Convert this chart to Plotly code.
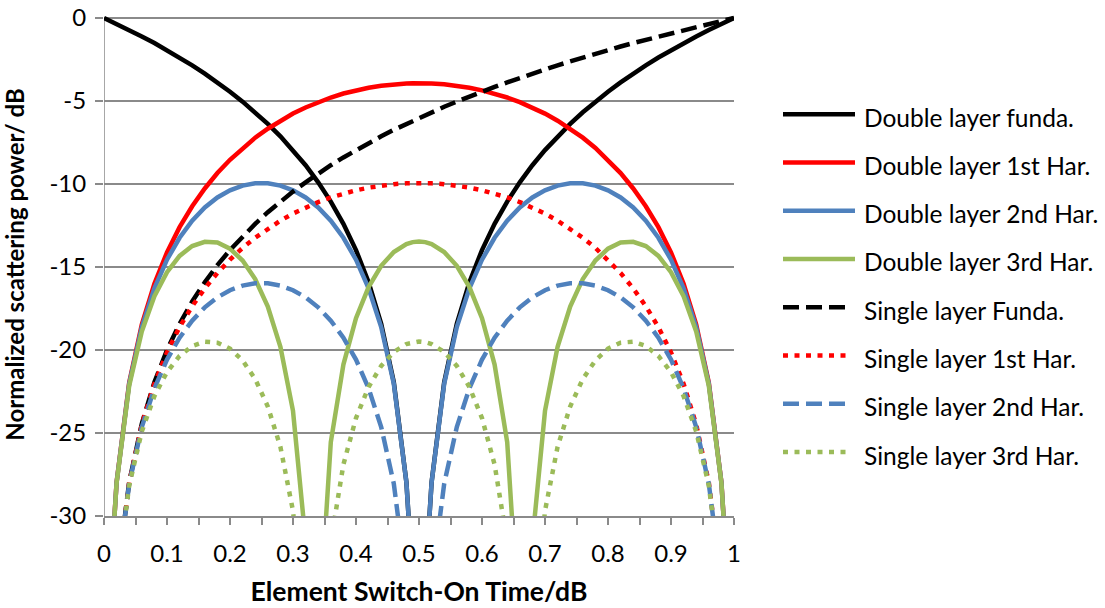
import plotly.graph_objects as go

# ---------------------------------------------------------------- data
# Element switch-on time (normalised), shared by every series
switch_on_time = [
    0, 0.01, 0.02, 0.04, 0.06, 0.08, 0.10, 0.12, 0.14, 0.16, 0.18, 0.20, 0.22,
    0.24, 0.26, 0.28, 0.30, 0.32, 0.34, 0.36, 0.38, 0.40, 0.42, 0.44, 0.46,
    0.48, 0.49, 0.50, 0.51, 0.52, 0.54, 0.56, 0.58, 0.60, 0.62, 0.64, 0.66,
    0.68, 0.70, 0.72, 0.74, 0.76, 0.78, 0.80, 0.82, 0.84, 0.86, 0.88, 0.90,
    0.92, 0.94, 0.96, 0.98, 0.99, 1.0,
]

# Normalised scattering power in dB (None = no finite value, -inf dB)
double_funda = [
    0, -0.18, -0.35, -0.72, -1.11, -1.51, -1.94, -2.38, -2.85, -3.35, -3.88,
    -4.44, -5.04, -5.68, -6.38, -7.13, -7.96, -8.87, -9.90, -11.06, -12.40,
    -13.98, -15.92, -18.42, -21.94, -27.96, -33.98, None, -33.98, -27.96,
    -21.94, -18.42, -15.92, -13.98, -12.40, -11.06, -9.90, -8.87, -7.96,
    -7.13, -6.38, -5.68, -5.04, -4.44, -3.88, -3.35, -2.85, -2.38, -1.94,
    -1.51, -1.11, -0.72, -0.35, -0.18, 0,
]
double_1st = [
    None, -33.98, -27.96, -21.96, -18.47, -16.01, -14.12, -12.60, -11.34,
    -10.27, -9.34, -8.54, -7.83, -7.21, -6.67, -6.19, -5.76, -5.39, -5.07,
    -4.79, -4.55, -4.36, -4.20, -4.08, -3.99, -3.94, -3.93, -3.92, -3.93,
    -3.94, -3.99, -4.08, -4.20, -4.36, -4.55, -4.79, -5.07, -5.39, -5.76,
    -6.19, -6.67, -7.21, -7.83, -8.54, -9.34, -10.27, -11.34, -12.60, -14.12,
    -16.01, -18.47, -21.96, -27.96, -33.98, None,
]
double_2nd = [
    None, -33.99, -27.98, -22.03, -18.62, -16.29, -14.56, -13.24, -12.21,
    -11.41, -10.81, -10.38, -10.10, -9.96, -9.96, -10.10, -10.38, -10.81,
    -11.41, -12.21, -13.24, -14.56, -16.29, -18.62, -22.03, -27.98, -33.99,
    None, -33.99, -27.98, -22.03, -18.62, -16.29, -14.56, -13.24, -12.21,
    -11.41, -10.81, -10.38, -10.10, -9.96, -9.96, -10.10, -10.38, -10.81,
    -11.41, -12.21, -13.24, -14.56, -16.29, -18.62, -22.03, -27.98, -33.99,
    None,
]
double_3rd = [
    None, -33.99, -28.01, -22.15, -18.89, -16.76, -15.31, -14.33, -13.74,
    -13.48, -13.53, -13.90, -14.61, -15.73, -17.38, -19.81, -23.67, -31.50,
    -37.51, -25.55, -20.88, -18.08, -16.21, -14.93, -14.10, -13.62, -13.50,
    -13.46, -13.50, -13.62, -14.10, -14.93, -16.21, -18.08, -20.88, -25.55,
    -37.51, -31.50, -23.67, -19.81, -17.38, -15.73, -14.61, -13.90, -13.53,
    -13.48, -13.74, -14.33, -15.31, -16.76, -18.89, -22.15, -28.01, -33.99,
    None,
]
single_funda = [
    None, -40.00, -33.98, -27.96, -24.44, -21.94, -20.00, -18.42, -17.08,
    -15.92, -14.89, -13.98, -13.15, -12.40, -11.70, -11.06, -10.46, -9.90,
    -9.37, -8.87, -8.40, -7.96, -7.54, -7.13, -6.74, -6.38, -6.20, -6.02,
    -5.85, -5.68, -5.35, -5.04, -4.73, -4.44, -4.15, -3.88, -3.61, -3.35,
    -3.10, -2.85, -2.62, -2.38, -2.16, -1.94, -1.72, -1.51, -1.31, -1.11,
    -0.92, -0.72, -0.54, -0.35, -0.18, -0.09, 0,
]
single_1st = [
    None, -40.00, -33.99, -27.98, -24.49, -22.03, -20.14, -18.62, -17.36,
    -16.29, -15.36, -14.56, -13.85, -13.24, -12.69, -12.21, -11.78, -11.41,
    -11.09, -10.81, -10.58, -10.38, -10.22, -10.10, -10.01, -9.96, -9.95,
    -9.94, -9.95, -9.96, -10.01, -10.10, -10.22, -10.38, -10.58, -10.81,
    -11.09, -11.41, -11.78, -12.21, -12.69, -13.24, -13.85, -14.56, -15.36,
    -16.29, -17.36, -18.62, -20.14, -22.03, -24.49, -27.98, -33.99, -40.00,
    None,
]
single_2nd = [
    None, -40.01, -34.00, -28.05, -24.64, -22.31, -20.58, -19.26, -18.23,
    -17.43, -16.83, -16.40, -16.12, -15.98, -15.98, -16.12, -16.40, -16.83,
    -17.43, -18.23, -19.26, -20.58, -22.31, -24.64, -28.05, -34.00, -40.01,
    None, -40.01, -34.00, -28.05, -24.64, -22.31, -20.58, -19.26, -18.23,
    -17.43, -16.83, -16.40, -16.12, -15.98, -15.98, -16.12, -16.40, -16.83,
    -17.43, -18.23, -19.26, -20.58, -22.31, -24.64, -28.05, -34.00, -40.01,
    None,
]
single_3rd = [
    None, -40.01, -34.03, -28.17, -24.91, -22.78, -21.33, -20.36, -19.76,
    -19.50, -19.56, -19.92, -20.63, -21.75, -23.40, -25.83, -29.69, -37.53,
    -43.53, -31.57, -26.90, -24.10, -22.23, -20.96, -20.12, -19.64, -19.53,
    -19.49, -19.53, -19.64, -20.12, -20.96, -22.23, -24.10, -26.90, -31.57,
    -43.53, -37.53, -29.69, -25.83, -23.40, -21.75, -20.63, -19.92, -19.56,
    -19.50, -19.76, -20.36, -21.33, -22.78, -24.91, -28.17, -34.03, -40.01,
    None,
]

series_names = [
    "Double layer funda.", "Double layer 1st Har.", "Double layer 2nd Har.",
    "Double layer 3rd Har.", "Single layer Funda.", "Single layer 1st Har.",
    "Single layer 2nd Har.", "Single layer 3rd Har.",
]
series_values = [
    double_funda, double_1st, double_2nd, double_3rd,
    single_funda, single_1st, single_2nd, single_3rd,
]

x_tick_values = [0, 0.1, 0.2, 0.3, 0.4, 0.5, 0.6, 0.7, 0.8, 0.9, 1]
x_tick_labels = ["0", "0.1", "0.2", "0.3", "0.4", "0.5", "0.6", "0.7", "0.8", "0.9", "1"]
y_tick_values = [-30, -25, -20, -15, -10, -5, 0]
y_tick_labels = ["-30", "-25", "-20", "-15", "-10", "-5", "0"]

# ---------------------------------------------------------------- styling
BLACK, RED, BLUE, GREEN = "#000000", "#FF0000", "#4F81BD", "#9BBB59"
DASH = "16px,7px"
DOT = "5px,6.5px"
series_styles = [
    (BLACK, "solid"), (RED, "solid"), (BLUE, "solid"), (GREEN, "solid"),
    (BLACK, DASH), (RED, DOT), (BLUE, DASH), (GREEN, DOT),
]
LINE_W = 4.5
GRID = "#8A8A8A"
FONT = "Lato"

W, H = 1105, 608
PLOT_L, PLOT_R = 104, 734          # pixel columns of x = 0 and x = 1
ZERO_PX, BOTTOM_PX = 17.8, 516     # pixel rows of 0 dB and -30 dB
Y_HEADROOM = 0.3                   # dB above 0 so the 0 dB ends are not clipped
px_per_db = (BOTTOM_PX - ZERO_PX) / 30.0
top_px = ZERO_PX - Y_HEADROOM * px_per_db
plot_h = BOTTOM_PX - top_px
plot_w = PLOT_R - PLOT_L

fig = go.Figure()
for name, values, (color, dash) in zip(series_names, series_values, series_styles):
    fig.add_trace(go.Scatter(
        x=switch_on_time, y=values, name=name, mode="lines",
        line=dict(color=color, width=LINE_W, dash=dash),
        connectgaps=False, showlegend=False,
    ))

# vertical axis line at x = 0
fig.add_shape(type="line", xref="x", yref="y", x0=0, x1=0, y0=-30, y1=0,
              line=dict(color=GRID, width=1.5), layer="below")

# legend: sample lines + labels placed to the right of the plot
LEG_X0, LEG_X1, LEG_TEXT_X = 783, 855, 862
LEG_Y0, LEG_STEP = 114, 48.3


def px_to_paper_x(px):
    return (px - PLOT_L) / plot_w


def px_to_paper_y(py):
    return (BOTTOM_PX - py) / plot_h


for i, (name, (color, dash)) in enumerate(zip(series_names, series_styles)):
    yc = LEG_Y0 + i * LEG_STEP
    x_end = LEG_X1 if dash == "solid" else LEG_X1 - 7
    fig.add_shape(type="line", xref="paper", yref="paper",
                  x0=px_to_paper_x(LEG_X0), x1=px_to_paper_x(x_end),
                  y0=px_to_paper_y(yc), y1=px_to_paper_y(yc),
                  line=dict(color=color, width=LINE_W, dash=dash))
    fig.add_annotation(xref="paper", yref="paper", x=px_to_paper_x(LEG_TEXT_X),
                       y=px_to_paper_y(yc + 3), text=name, showarrow=False,
                       xanchor="left", yanchor="middle",
                       font=dict(family=FONT, size=24.5, color="#000000"))

fig.update_layout(
    width=W, height=H,
    margin=dict(l=PLOT_L, r=W - PLOT_R, t=top_px, b=H - BOTTOM_PX, pad=0),
    paper_bgcolor="white", plot_bgcolor="white",
    font=dict(family=FONT, size=24, color="#000000"),
    showlegend=False,
)
fig.update_xaxes(
    range=[0, 1], tickmode="array", tickvals=x_tick_values, ticktext=x_tick_labels,
    ticks="outside", ticklen=7, tickwidth=1.5, tickcolor=GRID,
    minor=dict(tickmode="linear", tick0=0, dtick=0.05, ticks="outside",
               ticklen=7, tickwidth=1.5, tickcolor=GRID, showgrid=False),
    showgrid=False, zeroline=False, showline=True, linecolor=GRID, linewidth=1.5,
    tickfont=dict(family=FONT, size=24), ticklabelstandoff=8,
    title=dict(text="<b>Element Switch-On Time/dB</b>", standoff=17,
               font=dict(family=FONT, size=26.5)),
    automargin=False,
)
fig.update_yaxes(
    range=[-30, Y_HEADROOM], tickmode="array", tickvals=y_tick_values,
    ticktext=y_tick_labels, ticks="outside", ticklen=8, tickwidth=1.5, tickcolor=GRID,
    showgrid=True, gridcolor=GRID, gridwidth=1.5, zeroline=False, showline=False,
    tickfont=dict(family=FONT, size=24), ticklabelstandoff=4,
    title=dict(text="<b>Normalized scattering power/ dB</b>", standoff=21,
               font=dict(family=FONT, size=24)),
    automargin=False,
)

fig.write_html("out.html")
